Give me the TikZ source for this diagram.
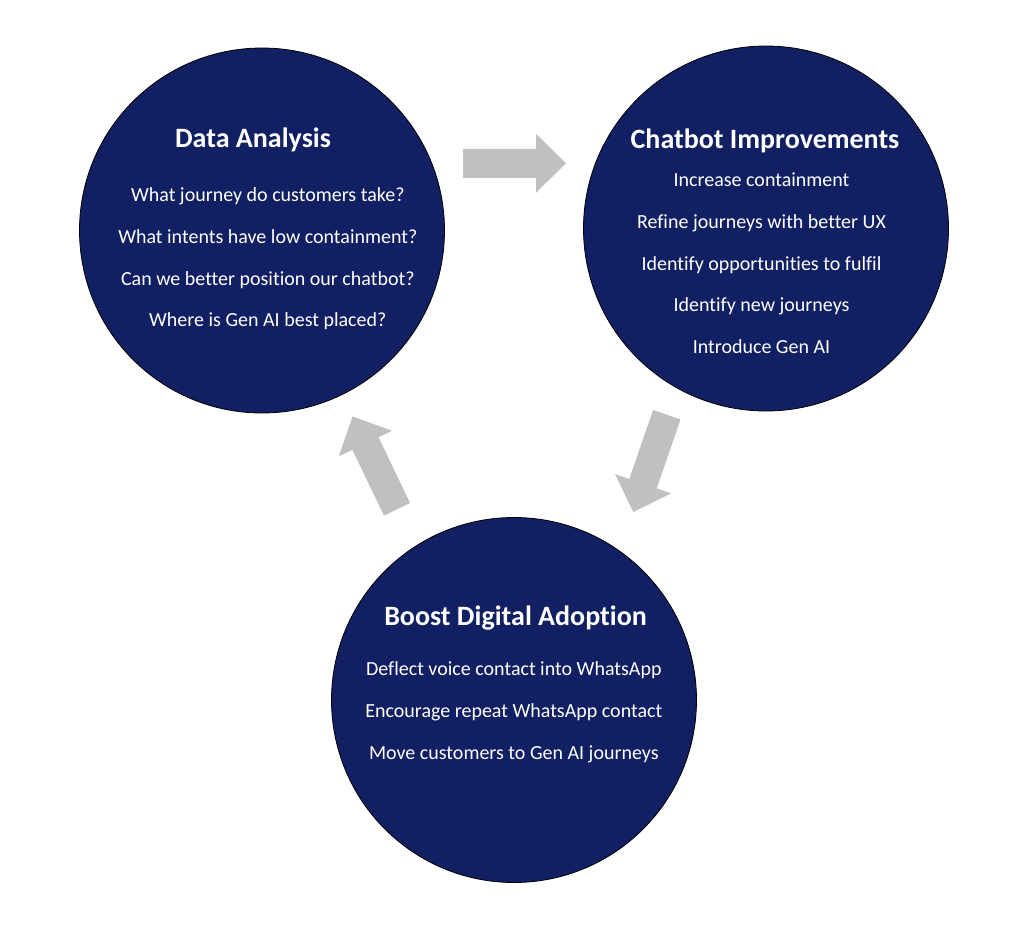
\documentclass[tikz,border=0pt]{standalone}
\usepackage{fontspec}
\setmainfont{Carlito}[Ligatures=NoCommon]
\usetikzlibrary{positioning}
\definecolor{navy}{RGB}{17,31,99}
\definecolor{arrowgray}{RGB}{192,192,192}
\tikzset{
  stage/.style={circle, draw=black, line width=0.8pt, fill=navy, minimum size=365pt, inner sep=0pt},
  stagetitle/.style={text=white, font=\fontsize{28}{32}\selectfont\bfseries, anchor=base},
  stageitem/.style={text=white, font=\fontsize{20}{24}\selectfont, anchor=base},
  blockarrow/.pic={
    \path[fill=arrowgray] (0,-14.5) -- (73,-14.5) -- (73,-29.5) -- (103,0)
      -- (73,29.5) -- (73,14.5) -- (0,14.5) -- cycle;
  }
}

\begin{document}
\begin{tikzpicture}[x=1pt, y=1pt]
    \useasboundingbox (0,0) rectangle (1023,-938);

    % the three stages
    \node[stage] (da) at (262,-230.5) {};
    \node[stage] (cb) at (766,-228.5) {};
    \node[stage] (bd) at (514,-700) {};

    % block arrows between them
    \pic at (463,-163.3) {blockarrow};
    \pic[rotate=251] at (666.8,-414.7) {blockarrow};
    \pic[rotate=115.6] at (397,-509.3) {blockarrow};

    % Data Analysis
    \node[stagetitle] (da-title) at (253,-147) {Data Analysis};
    \foreach \txt [count=\i] in {What journey do customers take?, What intents have low containment?,
        Can we better position our chatbot?, Where is Gen AI best placed?}
        \node[stageitem] (da-\i) at (267.8,{-160-41.7*\i}) {\txt};

    % Chatbot Improvements
    \node[stagetitle] (cb-title) at (765,-148.3) {Chatbot Improvements};
    \foreach \txt [count=\i] in {Increase containment, Refine journeys with better UX,
        Identify opportunities to fulfil, Identify new journeys, Introduce Gen AI}
        \node[stageitem] (cb-\i) at (761.5,{-145-41.7*\i}) {\txt};

    % Boost Digital Adoption
    \node[stagetitle] (bd-title) at (515.5,-625) {Boost Digital Adoption};
    \foreach \txt [count=\i] in {Deflect voice contact into WhatsApp, Encourage repeat WhatsApp contact,
        Move customers to Gen AI journeys}
        \node[stageitem] (bd-\i) at (513.8,{-634-41.7*\i}) {\txt};

\end{tikzpicture}
\end{document}
